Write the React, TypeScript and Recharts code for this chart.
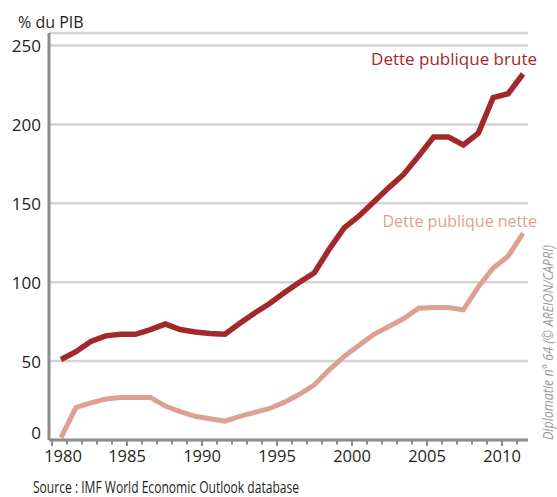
import React from "react";
import { CartesianGrid, Line, LineChart, XAxis, YAxis } from "recharts";

// Japon : dette publique en % du PIB
const YEARS = [
  1980, 1981, 1982, 1983, 1984, 1985, 1986, 1987, 1988, 1989, 1990, 1991, 1992, 1993, 1994, 1995,
  1996, 1997, 1998, 1999, 2000, 2001, 2002, 2003, 2004, 2005, 2006, 2007, 2008, 2009, 2010, 2011,
];
const GROSS_DEBT = [
  51, 56, 62.5, 66, 67, 67, 70, 73.5, 70, 68.5, 67.5, 67, 74, 80.5, 86.5, 93.5,
  100, 106, 121, 134.5, 142, 151, 160, 168.5, 180, 192, 192, 187, 194.5, 217, 219.5, 232,
];
const NET_DEBT = [
  1.5, 20.5, 23.5, 26, 27, 27, 27, 21.5, 18, 15, 13.5, 12, 15, 17.5, 20, 24,
  29, 35, 44.5, 53, 60, 67, 72, 77, 83.5, 84, 84, 82.5, 97, 109, 116.5, 131,
];
const Y_TICKS = [0, 50, 100, 150, 200, 250];
const YEAR_LABELS = [1980, 1985, 1990, 1995, 2000, 2005, 2010];

const data = YEARS.map((year, i) => ({ year, brute: GROSS_DEBT[i], nette: NET_DEBT[i] }));

const GROSS_COLOR = "#a3282c";
const NET_COLOR = "#dda193";
const AXIS_COLOR = "#8c8c8c";
const GRID_COLOR = "#d4d4d4";
const TEXT_COLOR = "#231f20";
const FONT = "'Open Sans', 'Noto Sans', sans-serif";

const renderValueTick = (props: any) => {
  const { x, y, payload } = props;
  // the zero label sits a little above the baseline in the original
  const lift = payload.value === 0 ? -8 : 0;
  return (
    <text
      x={x}
      y={y + lift}
      textAnchor="end"
      dominantBaseline="central"
      fontFamily={FONT}
      fontSize={17}
      fill={TEXT_COLOR}
    >
      {payload.value}
    </text>
  );
};

const renderYearTick = (props: any) => {
  const { x, y, payload } = props;
  const year = payload.value;
  const major = YEAR_LABELS.includes(year);
  return (
    <g>
      <line x1={x} x2={x} y1={y} y2={y + (major ? 6 : 4.5)} stroke={AXIS_COLOR} strokeWidth={2} />
      {major && (
        <text
          x={x + (year === 1980 ? 11 : 0)}
          y={y + 15}
          textAnchor="middle"
          dominantBaseline="central"
          fontFamily={FONT}
          fontSize={16.5}
          fill={TEXT_COLOR}
        >
          {year}
        </text>
      )}
    </g>
  );
};

export default function App() {
  return (
    <div style={{ position: "absolute", left: 0, top: 0, width: 557, height: 497, background: "#fff" }}>
      <LineChart width={557} height={497} data={data} margin={{ top: 33, right: 29, left: 0, bottom: 27 }}>
        <CartesianGrid
          xAxisId="years"
          vertical={false}
          stroke={GRID_COLOR}
          strokeWidth={2.5}
        />
        <XAxis
          xAxisId="data"
          type="number"
          dataKey="year"
          domain={[1980, 2011]}
          padding={{ left: 12, right: 5 }}
          height={0}
          hide
        />
        <XAxis
          xAxisId="years"
          type="number"
          dataKey="year"
          domain={[1980, 2011]}
          ticks={YEARS}
          interval={0}
          padding={{ left: 3, right: 11 }}
          tickSize={0}
          tickMargin={0}
          height={30}
          axisLine={{ stroke: AXIS_COLOR, strokeWidth: 3 }}
          tickLine={false}
          tick={renderYearTick}
          allowDataOverflow
        />
        <YAxis
          type="number"
          domain={[0, 258]}
          ticks={Y_TICKS}
          interval={0}
          width={49}
          axisLine={{ stroke: AXIS_COLOR, strokeWidth: 3 }}
          tickLine={false}
          tick={renderValueTick}
          allowDataOverflow
        />
        <Line
          xAxisId="data"
          type="linear"
          dataKey="nette"
          stroke={NET_COLOR}
          strokeWidth={5}
          dot={false}
          activeDot={false}
          isAnimationActive={false}
        />
        <Line
          xAxisId="data"
          type="linear"
          dataKey="brute"
          stroke={GROSS_COLOR}
          strokeWidth={5.5}
          dot={false}
          activeDot={false}
          isAnimationActive={false}
        />
      </LineChart>

      {/* Labels, source and credit on top of the chart */}
      <svg
        width={557}
        height={497}
        style={{ position: "absolute", left: 0, top: 0, pointerEvents: "none" }}
      >
        <text x={18} y={28} fontFamily={FONT} fontSize={16} fill={TEXT_COLOR}>
          % du PIB
        </text>
        <text x={537} y={65} textAnchor="end" fontFamily={FONT} fontSize={17} fill={GROSS_COLOR}>
          Dette publique brute
        </text>
        <text x={537} y={227} textAnchor="end" fontFamily={FONT} fontSize={16} fill={NET_COLOR}>
          Dette publique nette
        </text>
        <text
          x={33}
          y={493}
          fontFamily="'Liberation Sans Narrow', 'Open Sans', sans-serif"
          fontSize={16}
          fill={TEXT_COLOR}
          textLength={266}
          lengthAdjust="spacingAndGlyphs"
        >
          Source : IMF World Economic Outlook database
        </text>
        <text
          transform="translate(553, 440) rotate(-90)"
          fontFamily="'Liberation Sans Narrow', 'Open Sans', sans-serif"
          fontStyle="italic"
          fontSize={14}
          fill="#9b9b9b"
          textLength={195}
          lengthAdjust="spacingAndGlyphs"
        >
          Diplomatie n° 64 (© AREION/CAPRI)
        </text>
      </svg>
    </div>
  );
}
